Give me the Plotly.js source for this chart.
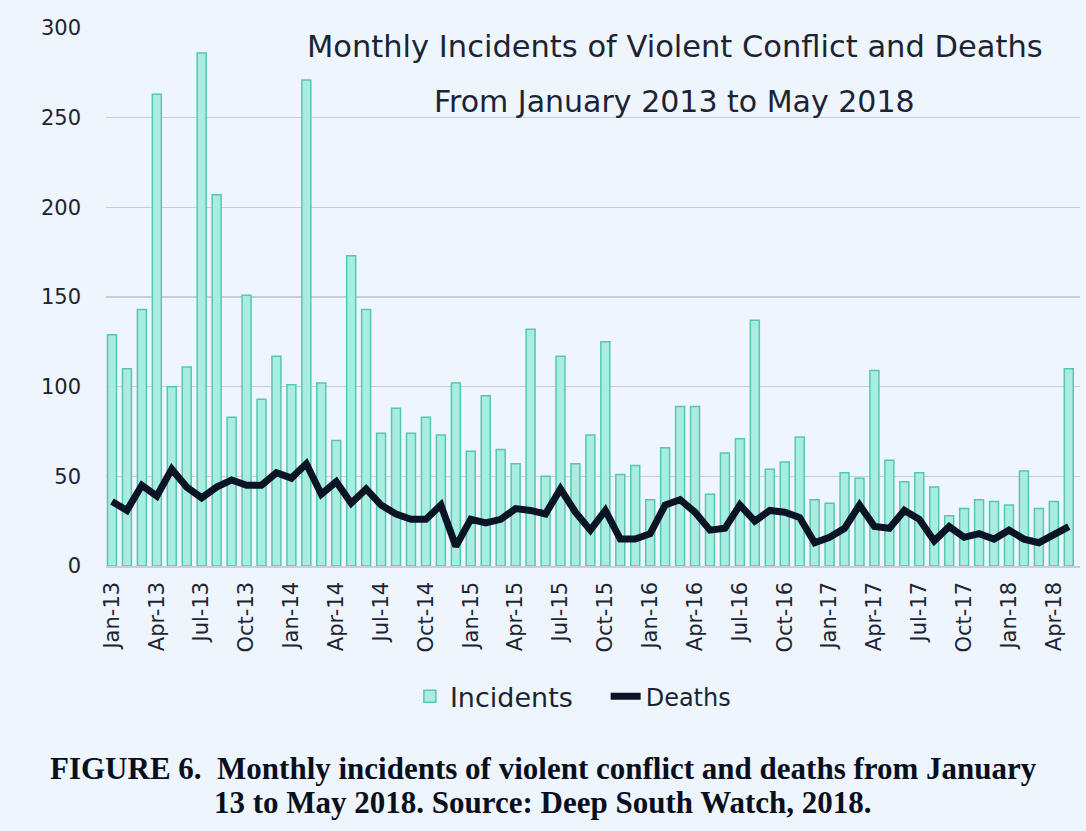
<!DOCTYPE html>
<html>
<head>
<meta charset="utf-8">
<script src="https://cdn.plot.ly/plotly-3.0.1.min.js"></script>
<style>
html,body{margin:0;padding:0;background:#eff5fd;}
#chart{width:1086px;height:831px;}
</style>
</head>
<body>
<div id="chart"></div>
<script>
const months = ["Jan-13","Feb-13","Mar-13","Apr-13","May-13","Jun-13","Jul-13","Aug-13","Sep-13","Oct-13","Nov-13","Dec-13",
"Jan-14","Feb-14","Mar-14","Apr-14","May-14","Jun-14","Jul-14","Aug-14","Sep-14","Oct-14","Nov-14","Dec-14",
"Jan-15","Feb-15","Mar-15","Apr-15","May-15","Jun-15","Jul-15","Aug-15","Sep-15","Oct-15","Nov-15","Dec-15",
"Jan-16","Feb-16","Mar-16","Apr-16","May-16","Jun-16","Jul-16","Aug-16","Sep-16","Oct-16","Nov-16","Dec-16",
"Jan-17","Feb-17","Mar-17","Apr-17","May-17","Jun-17","Jul-17","Aug-17","Sep-17","Oct-17","Nov-17","Dec-17",
"Jan-18","Feb-18","Mar-18","Apr-18","May-18"];

const incidents = [129,110,143,263,100,111,286,207,83,151,93,117,
101,271,102,70,173,143,74,88,74,83,73,102,
64,95,65,57,132,50,117,57,73,125,51,56,
37,66,89,89,40,63,71,137,54,58,72,37,
35,52,49,109,59,47,52,44,28,32,37,36,
34,53,32,36,110];

const deaths = [36,31,45,39,54,44,38,44,48,45,45,52,
49,57,40,47,35,43,34,29,26,26,34,11,
26,24,26,32,31,29,43,30,20,31,15,15,
18,34,37,30,20,21,34,25,31,30,27,13,
16,21,34,22,21,31,26,14,22,16,18,15,
20,15,13,17,22];

const tickLabels = ["Jan-13","Apr-13","Jul-13","Oct-13","Jan-14","Apr-14","Jul-14","Oct-14","Jan-15","Apr-15","Jul-15",
"Oct-15","Jan-16","Apr-16","Jul-16","Oct-16","Jan-17","Apr-17","Jul-17","Oct-17","Jan-18","Apr-18"];

const titleLine1 = "Monthly Incidents of Violent Conflict and Deaths";
const titleLine2 = "From January 2013 to May 2018";
const caption1 = "FIGURE 6.  Monthly incidents of violent conflict and deaths from January";
const caption2 = "13 to May 2018. Source: Deep South Watch, 2018.";

const bg = '#eff5fd';
const sans = '"DejaVu Sans", "Open Sans", sans-serif';
const serif = '"Liberation Serif", "DejaVu Serif", serif';
const ink = '#1c2433';

const traces = [
  {
    type: 'bar', name: 'Incidents', x: months, y: incidents, width: 0.6,
    marker: {color: '#a9ece0', line: {color: '#55c8b4', width: 1.5}},
    legend: 'legend'
  },
  {
    type: 'scatter', mode: 'lines', name: 'Deaths', x: months, y: deaths,
    line: {color: '#0b1424', width: 7, shape: 'linear'},
    legend: 'legend2'
  }
];

const layout = {
  width: 1086, height: 831,
  paper_bgcolor: bg, plot_bgcolor: bg,
  margin: {l: 106, r: 6, t: 28, b: 265},
  showlegend: true,
  font: {family: sans, color: ink},
  xaxis: {
    type: 'category',
    range: [-0.4, 64.75],
    tickmode: 'array',
    tickvals: tickLabels,
    ticktext: tickLabels,
    tickangle: -90,
    tickfont: {size: 21, color: ink, family: sans},
    showgrid: false,
    showline: true, linecolor: '#c9ced8', linewidth: 1.5,
    ticks: '', ticklabelstandoff: 6,
    zeroline: false, fixedrange: true
  },
  yaxis: {
    range: [0, 300],
    tickvals: [0, 50, 100, 150, 200, 250, 300],
    tickfont: {size: 21, color: ink, family: sans},
    showgrid: true, gridcolor: '#c9cdd6', gridwidth: 1.5,
    zeroline: false, ticks: '', ticklabelstandoff: 24,
    showline: false, fixedrange: true
  },
  legend: {
    orientation: 'h', x: 0.312, xanchor: 'left', y: -0.243, yanchor: 'middle',
    font: {size: 27, color: ink, family: sans},
    bgcolor: 'rgba(0,0,0,0)'
  },
  legend2: {
    orientation: 'h', x: 0.513, xanchor: 'left', y: -0.243, yanchor: 'middle',
    font: {size: 24, color: ink, family: sans},
    bgcolor: 'rgba(0,0,0,0)'
  },
  annotations: [
    {text: titleLine1, xref: 'paper', yref: 'paper', x: 0.584, y: 0.9647, xanchor: 'center', yanchor: 'middle',
     showarrow: false, font: {size: 30.5, color: ink, family: sans}},
    {text: titleLine2, xref: 'paper', yref: 'paper', x: 0.584, y: 0.8625, xanchor: 'center', yanchor: 'middle',
     showarrow: false, font: {size: 30, color: ink, family: sans}},
    {text: '<b>' + caption1 + '</b>', xref: 'paper', yref: 'paper', x: 0.4487, y: -0.3755, xanchor: 'center', yanchor: 'middle',
     showarrow: false, font: {size: 31, color: '#0a0f1e', family: serif}},
    {text: '<b>' + caption2 + '</b>', xref: 'paper', yref: 'paper', x: 0.4487, y: -0.4387, xanchor: 'center', yanchor: 'middle',
     showarrow: false, font: {size: 31, color: '#0a0f1e', family: serif}}
  ]
};

Plotly.newPlot('chart', traces, layout, {displayModeBar: false, staticPlot: true});
</script>
</body>
</html>
